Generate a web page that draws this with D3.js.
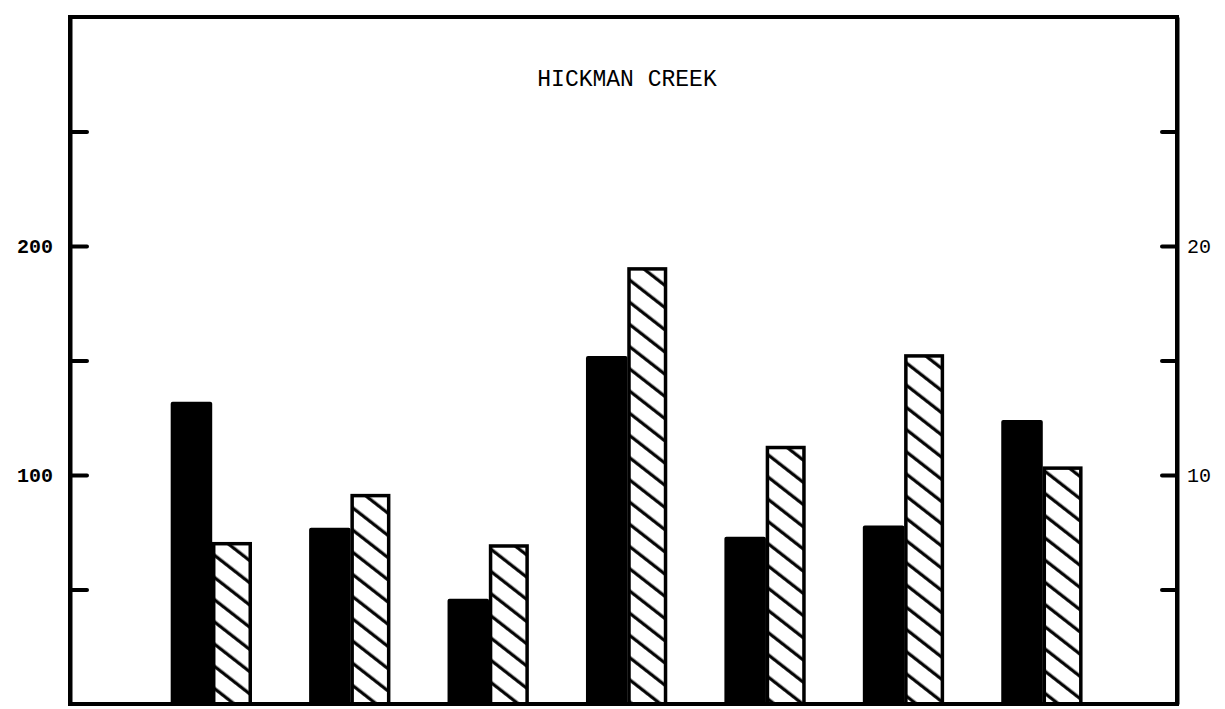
<!DOCTYPE html>
<html>
<head>
<meta charset="utf-8">
<script src="https://cdn.jsdelivr.net/npm/d3@7"></script>
<style>
  html, body { margin: 0; padding: 0; background: #fff; }
  svg { display: block; }
</style>
</head>
<body>
<svg id="chart" width="1225" height="709"></svg>
<script>
// ---- data ----
const title = "HICKMAN CREEK";
const categories = ["1", "2", "3", "4", "5", "6", "7"];
const solidValues = [132, 77, 46, 152, 73, 78, 124];          // left axis (0-300)
const hatchedValues = [7.0, 9.1, 6.9, 19.0, 11.2, 15.2, 10.3];   // right axis (0-30)
const leftTicks = [50, 100, 150, 200, 250];
const leftLabels = [100, 200];
const rightTicks = [5, 10, 15, 20, 25];
const rightLabels = [10, 20];

// ---- layout ----
const frame = { left: 70, right: 1177, top: 17, bottom: 704 };

const svg = d3.select("#chart");

const yL = d3.scaleLinear().domain([0, 300]).range([frame.bottom, frame.top]);
const yR = d3.scaleLinear().domain([0, 30]).range([frame.bottom, frame.top]);

const x = d3.scaleBand()
  .domain(categories)
  .range([143, 1112])
  .paddingInner(0.4)
  .paddingOuter(0.2);

const xs = d3.scaleBand().domain(["solid", "hatched"]).range([0, x.bandwidth()]).padding(0);

// hatch pattern
const defs = svg.append("defs");
const pat = defs.append("pattern")
  .attr("id", "hatch")
  .attr("patternUnits", "userSpaceOnUse")
  .attr("width", 10)
  .attr("height", 17.5)
  .attr("patternTransform", "rotate(38)");
pat.append("rect").attr("width", 10).attr("height", 17.5).attr("fill", "#fff");
pat.append("line")
  .attr("x1", -1).attr("x2", 11)
  .attr("y1", 8).attr("y2", 8)
  .attr("stroke", "#000").attr("stroke-width", 3.2);

// bars
const g = svg.append("g");
g.selectAll("rect.solid")
  .data(solidValues)
  .join("rect")
  .attr("class", "solid")
  .attr("x", (d, i) => x(categories[i]) + xs("solid"))
  .attr("width", xs.bandwidth())
  .attr("y", d => yL(d))
  .attr("height", d => yL(0) - yL(d))
  .attr("rx", 2)
  .attr("fill", "#000");

g.selectAll("rect.hatched")
  .data(hatchedValues)
  .join("rect")
  .attr("class", "hatched")
  .attr("x", (d, i) => x(categories[i]) + xs("hatched") + 1.5)
  .attr("width", xs.bandwidth() - 5)
  .attr("y", d => yR(d))
  .attr("height", d => yR(0) - yR(d))
  .attr("fill", "url(#hatch)")
  .attr("stroke", "#000")
  .attr("stroke-width", 3.5);

// frame
svg.append("rect")
  .attr("x", frame.left)
  .attr("y", frame.top)
  .attr("width", frame.right - frame.left)
  .attr("height", frame.bottom - frame.top)
  .attr("fill", "none")
  .attr("stroke", "#000")
  .attr("stroke-width", 4);

const monoFont = "'Liberation Mono', 'DejaVu Sans Mono', monospace";

// left axis
const axL = svg.append("g")
  .attr("transform", `translate(${frame.left},0)`)
  .call(d3.axisLeft(yL)
    .tickValues(leftTicks)
    .tickSize(-17)
    .tickSizeOuter(0)
    .tickPadding(17)
    .tickFormat(d => leftLabels.includes(d) ? String(d) : ""));
axL.select(".domain").attr("stroke", "#000").attr("stroke-width", 4);
axL.selectAll(".tick line").attr("stroke", "#000").attr("stroke-width", 4).attr("stroke-linecap", "round");
axL.selectAll(".tick text")
  .attr("fill", "#000")
  .style("font-family", monoFont)
  .style("font-weight", "bold")
  .style("font-size", "20px");

// right axis
const axR = svg.append("g")
  .attr("transform", `translate(${frame.right},0)`)
  .call(d3.axisRight(yR)
    .tickValues(rightTicks)
    .tickSize(-15)
    .tickSizeOuter(0)
    .tickPadding(10)
    .tickFormat(d => rightLabels.includes(d) ? String(d) : ""));
axR.select(".domain").attr("stroke", "#000").attr("stroke-width", 4);
axR.selectAll(".tick line").attr("stroke", "#000").attr("stroke-width", 4).attr("stroke-linecap", "round");
axR.selectAll(".tick text")
  .attr("fill", "#000")
  .style("font-family", monoFont)
  .style("font-size", "20px");

// title
svg.append("text")
  .attr("x", 627)
  .attr("y", 86)
  .attr("text-anchor", "middle")
  .style("font-family", monoFont)
  .style("font-size", "23px")
  .attr("fill", "#000")
  .text(title);
</script>
</body>
</html>
